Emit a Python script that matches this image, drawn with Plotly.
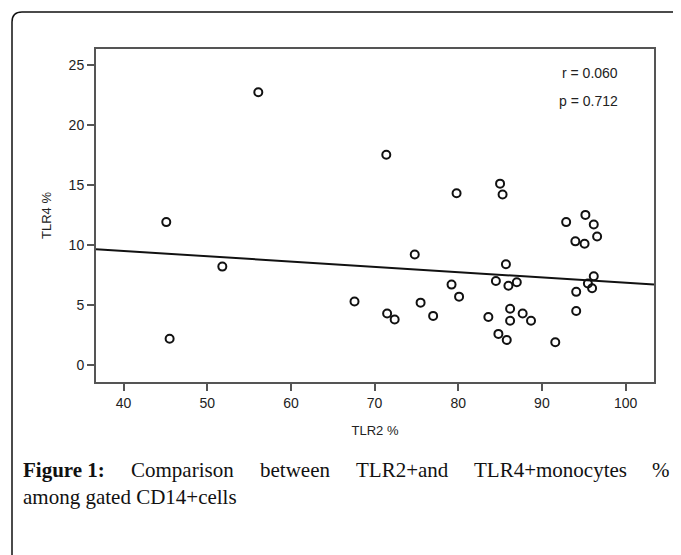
import plotly.graph_objects as go

# ---- data ----
tlr2 = [71.4, 85.0, 85.3, 79.8, 95.2, 92.9, 96.2, 96.6, 94.0, 95.1,
        74.8, 85.7, 96.2, 95.5, 96.0, 84.5, 86.0, 87.0, 79.2, 80.1,
        75.5, 67.6, 94.1, 71.5, 72.4, 77.0, 83.6, 86.2, 87.7, 86.2,
        88.7, 94.1, 84.8, 85.8, 91.6, 56.1, 45.1, 51.8, 45.5]
tlr4 = [17.5, 15.1, 14.2, 14.3, 12.5, 11.9, 11.7, 10.7, 10.3, 10.1,
        9.2, 8.4, 7.4, 6.8, 6.4, 7.0, 6.6, 6.9, 6.7, 5.7,
        5.2, 5.3, 6.1, 4.3, 3.8, 4.1, 4.0, 4.7, 4.3, 3.7,
        3.7, 4.5, 2.6, 2.1, 1.9, 22.7, 11.9, 8.2, 2.2]

fit_intercept = 11.26
fit_slope = -0.044

x_range = [36.7, 103.4]
y_range = [-1.4, 26.3]
x_ticks = [40, 50, 60, 70, 80, 90, 100]
y_ticks = [0, 5, 10, 15, 20, 25]

stats_text = ["r = 0.060", "p = 0.712"]
x_title = "TLR2 %"
y_title = "TLR4 %"
caption_words = ["<b>Figure 1:</b>", "Comparison", "between", "TLR2+and",
                 "TLR4+monocytes", "%"]
caption_line2 = "among gated CD14+cells"

# page body has an 8px margin: the figure is drawn 8px in from the window edge
OFF = 8
W, H = 681 - OFF, 555 - OFF
L, T = 96 - OFF, 49 - OFF
R = W - (654 - OFF)
B = H - (382 - OFF)
pw, ph = W - L - R, H - T - B


def px(x):
    """window pixel x -> paper x"""
    return (x - OFF - L) / pw


def py(y):
    """window pixel y -> paper y"""
    return 1 - (y - OFF - T) / ph


fig = go.Figure()

fit_x = x_range
fit_y = [fit_intercept + fit_slope * v for v in fit_x]
fig.add_trace(go.Scatter(x=fit_x, y=fit_y, mode="lines",
                         line=dict(color="#111", width=2),
                         hoverinfo="skip", showlegend=False))

fig.add_trace(go.Scatter(x=tlr2, y=tlr4, mode="markers",
                         marker=dict(symbol="circle-open", size=8,
                                     color="#111", line=dict(width=2, color="#111")),
                         showlegend=False))

axis_common = dict(showline=True, linecolor="#555", linewidth=2, mirror=True,
                   ticks="outside", ticklen=7, tickwidth=1.5, tickcolor="#555",
                   showgrid=False, zeroline=False,
                   tickfont=dict(family="Liberation Sans, Arial", size=14, color="#222"))

fig.update_xaxes(range=x_range, tickvals=x_ticks,
                 title=dict(text=x_title, standoff=16,
                            font=dict(family="Liberation Sans, Arial", size=13, color="#222")),
                 **axis_common)
fig.update_yaxes(range=y_range, tickvals=y_ticks,
                 title=dict(text=y_title, standoff=14,
                            font=dict(family="Liberation Sans, Arial", size=13, color="#222")),
                 **axis_common)

annotations = []
for i, t in enumerate(stats_text):
    annotations.append(dict(text=t, xref="paper", yref="paper",
                            x=px(620), xanchor="right",
                            y=py(73 + 28 * i), yanchor="middle",
                            showarrow=False,
                            font=dict(family="Liberation Sans, Arial", size=14, color="#222")))

cap_font = dict(family="Liberation Serif, Times New Roman", size=21, color="#111")
word_x = [21, 129, 258, 354, 472, 650]
for w, xw in zip(caption_words, word_x):
    annotations.append(dict(text=w, xref="paper", yref="paper",
                            x=px(xw), xanchor="left",
                            y=py(470), yanchor="middle",
                            showarrow=False, font=cap_font))
annotations.append(dict(text=caption_line2, xref="paper", yref="paper",
                        x=px(21), xanchor="left",
                        y=py(497), yanchor="middle",
                        showarrow=False, font=cap_font))

# outer rounded border: left side and top only in view
bx0, by0, rad = 12, 12, 10
path = (f"M {px(bx0)},{py(570)} L {px(bx0)},{py(by0 + rad)} "
        f"Q {px(bx0)},{py(by0)} {px(bx0 + rad)},{py(by0)} "
        f"L {px(700)},{py(by0)}")

fig.update_layout(
    width=W, height=H,
    margin=dict(l=L, r=R, t=T, b=B),
    paper_bgcolor="white", plot_bgcolor="white",
    annotations=annotations,
    shapes=[dict(type="path", path=path, xref="paper", yref="paper",
                 line=dict(color="#111", width=1.5))],
    showlegend=False,
)

fig.write_html("out.html")
